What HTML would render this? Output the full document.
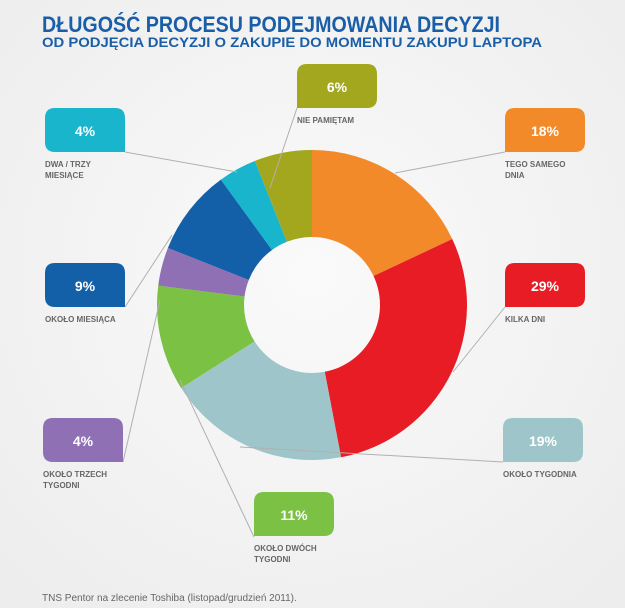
<!DOCTYPE html>
<html><head><meta charset="utf-8"><style>
html,body{margin:0;padding:0;background:#f4f4f4;}
svg{display:block;}
</style></head><body>
<svg id="s" width="625" height="608" viewBox="0 0 625 608" xmlns="http://www.w3.org/2000/svg" font-family="Liberation Sans, DejaVu Sans, sans-serif">
<defs><radialGradient id="bg" cx="50%" cy="45%" r="70%"><stop offset="0" stop-color="#fafafa"/><stop offset="1" stop-color="#ededed"/></radialGradient></defs>
<rect width="625" height="608" fill="url(#bg)"/>
<text x="42" y="32" font-size="22" font-weight="bold" fill="#1a5ea8" textLength="458" lengthAdjust="spacingAndGlyphs">DŁUGOŚĆ PROCESU PODEJMOWANIA DECYZJI</text>
<text x="42" y="47" font-size="14" font-weight="bold" fill="#1a5ea8" textLength="500" lengthAdjust="spacingAndGlyphs">OD PODJĘCIA DECYZJI O ZAKUPIE DO MOMENTU ZAKUPU LAPTOPA</text>
<g id="pie"></g>
<g stroke="#b0b0b0" stroke-width="1" fill="none">
<line x1="297" y1="108" x2="270" y2="188"/>
<line x1="125" y1="152" x2="237" y2="172"/>
<line x1="505" y1="152" x2="395" y2="173"/>
<line x1="505" y1="307" x2="453" y2="372"/>
<line x1="125" y1="307" x2="172" y2="235"/>
<line x1="123" y1="462" x2="160" y2="300"/>
<line x1="503" y1="462" x2="240" y2="447"/>
<line x1="254" y1="537" x2="180" y2="380"/>
</g>
<g id="boxes"></g>
<text x="42" y="601" font-size="10" fill="#666">TNS Pentor na zlecenie Toshiba (listopad/grudzień 2011).</text>
</svg>
<script>
var cx=312,cy=305,R=155,r=68;
var d=[[18,"#f28a2a"],[29,"#e81c24"],[19,"#9ec6ca"],[11,"#7bc143"],[4,"#9070b4"],[9,"#1460a8"],[4,"#19b5cc"],[6,"#a2a71e"]];
var a=0,h="";
function p(rad,ang){var t=ang/100*2*Math.PI;return [cx+rad*Math.sin(t),cy-rad*Math.cos(t)];}
d.forEach(function(s){var b=a+s[0];var l=s[0]>50?1:0;var p1=p(R,a),p2=p(R,b),p3=p(r,b),p4=p(r,a);
h+='<path fill="'+s[1]+'" d="M'+p1+'A'+R+','+R+' 0 '+l+' 1 '+p2+'L'+p3+'A'+r+','+r+' 0 '+l+' 0 '+p4+'Z"/>';a=b;});
document.getElementById('pie').innerHTML=h;
var B=[[297,64,"6%","#a2a71e",0,["NIE PAMIĘTAM"]],[45,108,"4%","#19b5cc",1,["DWA / TRZY","MIESIĄCE"]],[505,108,"18%","#f28a2a",0,["TEGO SAMEGO","DNIA"]],[505,263,"29%","#e81c24",0,["KILKA DNI"]],[45,263,"9%","#1460a8",1,["OKOŁO MIESIĄCA"]],[43,418,"4%","#9070b4",1,["OKOŁO TRZECH","TYGODNI"]],[503,418,"19%","#9ec6ca",0,["OKOŁO TYGODNIA"]],[254,492,"11%","#7bc143",0,["OKOŁO DWÓCH","TYGODNI"]]];
var g="";
B.forEach(function(b){var x=b[0],y=b[1],w=80,hh=44,k=10,pth;
if(b[4]==0){pth='M'+x+','+(y+hh)+'V'+(y+k)+'Q'+x+','+y+' '+(x+k)+','+y+'H'+(x+w-k)+'Q'+(x+w)+','+y+' '+(x+w)+','+(y+k)+'V'+(y+hh-k)+'Q'+(x+w)+','+(y+hh)+' '+(x+w-k)+','+(y+hh)+'Z';}
else{pth='M'+(x+w)+','+(y+hh)+'V'+(y+k)+'Q'+(x+w)+','+y+' '+(x+w-k)+','+y+'H'+(x+k)+'Q'+x+','+y+' '+x+','+(y+k)+'V'+(y+hh-k)+'Q'+x+','+(y+hh)+' '+(x+k)+','+(y+hh)+'Z';}
g+='<path fill="'+b[3]+'" d="'+pth+'"/>';
g+='<text x="'+(x+w/2)+'" y="'+(y+28)+'" text-anchor="middle" font-size="14" font-weight="bold" fill="#fff">'+b[2]+'</text>';
b[5].forEach(function(t,i){g+='<text x="'+x+'" y="'+(y+hh+15+i*11)+'" font-size="8" font-weight="bold" fill="#666">'+t+'</text>';});
});
document.getElementById('boxes').innerHTML=g;
</script>
</body></html>
